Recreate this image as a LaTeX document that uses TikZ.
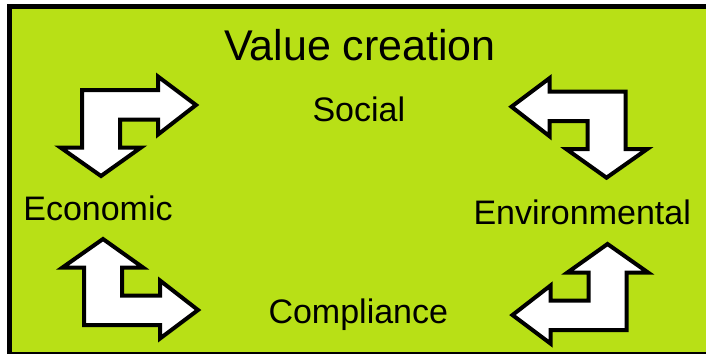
\documentclass[tikz,border=0pt]{standalone}
\usepackage{fontspec}
\setmainfont{Liberation Sans}
\usepackage{xcolor}
\definecolor{pLime}{HTML}{B8E016}

\begin{document}
\begin{tikzpicture}[x=1pt,y=-1pt]
    \pgfmathsetmacro{\a}{76}	%horizontal shaft
    \pgfmathsetmacro{\b}{29.5}	%horizontal shaft width
    \pgfmathsetmacro{\c}{38}	%vertical shaft width
    \pgfmathsetmacro{\d}{57.5}	%vertical shaft

    \useasboundingbox (0,0) rectangle (706,354);
    \fill[white] (0,0) rectangle (706,354);
    \fill[pLime] (9.5,6.7) rectangle (706,352);
    \draw[line width=5pt] (706,6.7) -- (9.5,6.7) -- (9.5,354);
    \draw[line width=2pt] (9.5,353) -- (706,353);

    \tikzset{
        bentarrow/.pic={
            \draw[line width=4pt, fill=white] (0,0) -- (\a,0) -- (\a,-13.5) -- (114,15) -- (\a,44.5) -- (\a,\b) -- (\c,\b) -- (\c,\d) -- (59,\d) -- (19,86) -- (-21.5,\d) -- (0,\d) -- cycle;
        },
        label/.style={anchor=base, font=\fontsize{34}{40}\selectfont}
    };

    \pic at (82,90) {bentarrow};
    \pic[yscale=-1] at (84,325) {bentarrow};
    \pic[xscale=-1] at (625.5,91.7) {bentarrow};
    \pic[xscale=-1,yscale=-1] at (626.5,330) {bentarrow};

    \node[anchor=base, font=\fontsize{43}{50}\selectfont] (title) at (360,60) {Value creation};
    \node[label] (social) at (358.8,121.7) {Social};
    \node[label] (economic) at (98,220) {Economic};
    \node[label] (environmental) at (582.2,224) {Environmental};
    \node[label] (compliance) at (358.3,323.3) {Compliance};
\end{tikzpicture}
\end{document}
